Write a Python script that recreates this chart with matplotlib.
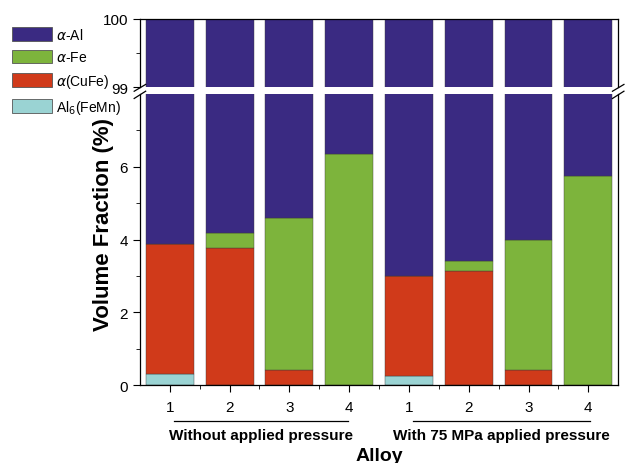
#Stacked volume fractions of the phases in each alloy, with a broken y axis
import numpy as np
import matplotlib.pyplot as plt
from matplotlib.patches import Patch

plt.rcParams["font.family"] = ["Liberation Sans", "DejaVu Sans"]

alloys = ["1", "2", "3", "4", "1", "2", "3", "4"]
groups = ["Without applied pressure", "With 75 MPa applied pressure"]
al6_femn = [0.30, 0.0, 0.0, 0.0, 0.25, 0.0, 0.0, 0.0]
a_cufe = [3.58, 3.77, 0.41, 0.0, 2.76, 3.13, 0.41, 0.0]
a_fe = [0.0, 0.41, 4.18, 6.36, 0.0, 0.27, 3.57, 5.75]
phases = ["$\\alpha$-Al", "$\\alpha$-Fe", "$\\alpha$(CuFe)", "Al$_6$(FeMn)"]
colours = ["#3a2a82", "#7db43c", "#d03a1a", "#9ad3d3"]

def main():
    x = np.arange(1, len(alloys) + 1)
    al6 = np.array(al6_femn)
    cufe = np.array(a_cufe)
    fe = np.array(a_fe)
    al = 100 - al6 - cufe - fe

    fig = plt.figure(figsize=(6.36, 4.64), dpi=100)
    ax_top = fig.add_axes([0.220, 0.810, 0.752, 0.147])
    ax_bot = fig.add_axes([0.220, 0.168, 0.752, 0.627])

    for ax in (ax_top, ax_bot):
        bottom = np.zeros(len(x))
        for vals, col in zip([al6, cufe, fe, al], colours[::-1]):
            ax.bar(x, vals, width=0.8, bottom=bottom, color=col,
                   edgecolor="#3a3a3a", linewidth=0.3)
            bottom = bottom + vals
        ax.set_xlim(0.5, 8.5)
        ax.tick_params(direction="out", labelsize=11, length=5)
        ax.tick_params(which="minor", direction="out", length=3)
        for s in ax.spines.values():
            s.set_linewidth(0.9)

    ax_top.set_ylim(99, 100)
    ax_top.set_yticks([99, 100])
    ax_top.set_yticks([99.5], minor=True)
    ax_top.spines["bottom"].set_visible(False)
    ax_top.set_xticks([])

    ax_bot.set_ylim(0, 8)
    ax_bot.set_yticks([0, 2, 4, 6])
    ax_bot.set_yticks([1, 3, 5, 7], minor=True)
    ax_bot.spines["top"].set_visible(False)
    ax_bot.set_xticks(x)
    ax_bot.set_xticklabels(alloys)
    ax_bot.set_xticks(x[:-1] + 0.5, minor=True)
    ax_bot.tick_params(axis="x", pad=6)

    #break marks
    d = 0.012
    kw = dict(color="k", linewidth=0.9, clip_on=False)
    for xs in (0, 1):
        ax_top.plot([xs - d, xs + d], [-0.06, 0.04], transform=ax_top.transAxes, **kw)
        ax_bot.plot([xs - d, xs + d], [0.985, 1.01], transform=ax_bot.transAxes, **kw)

    #group lines and labels
    trans = ax_bot.get_xaxis_transform()
    spans = [(1.07, 3.98), (5.07, 8.03)]
    for (a, b), g in zip(spans, groups):
        ax_bot.plot([a, b], [-0.124, -0.124], color="k", linewidth=0.9,
                    transform=trans, clip_on=False)
        ax_bot.text((a + b) / 2, -0.172, g, transform=trans, ha="center",
                    va="center", fontsize=11, fontweight="bold")

    fig.text(0.597, 0.006, "Alloy", ha="center", va="baseline",
             fontsize=14, fontweight="bold")
    fig.text(0.162, 0.517, "Volume Fraction (%)", ha="center", va="center",
             rotation=90, fontsize=16, fontweight="bold")

    handles = [Patch(facecolor=c, edgecolor="#555555", linewidth=0.6) for c in colours]
    fig.legend(handles, phases, loc="upper left", bbox_to_anchor=(12 / 636, 1 - 28 / 464),
               frameon=False, fontsize=10, handlelength=2.9, handleheight=1.15,
               labelspacing=0.55, handletextpad=0.25, borderpad=0, borderaxespad=0)

    fig.savefig("out.png", dpi=100)

if __name__ == "__main__":
    main()
